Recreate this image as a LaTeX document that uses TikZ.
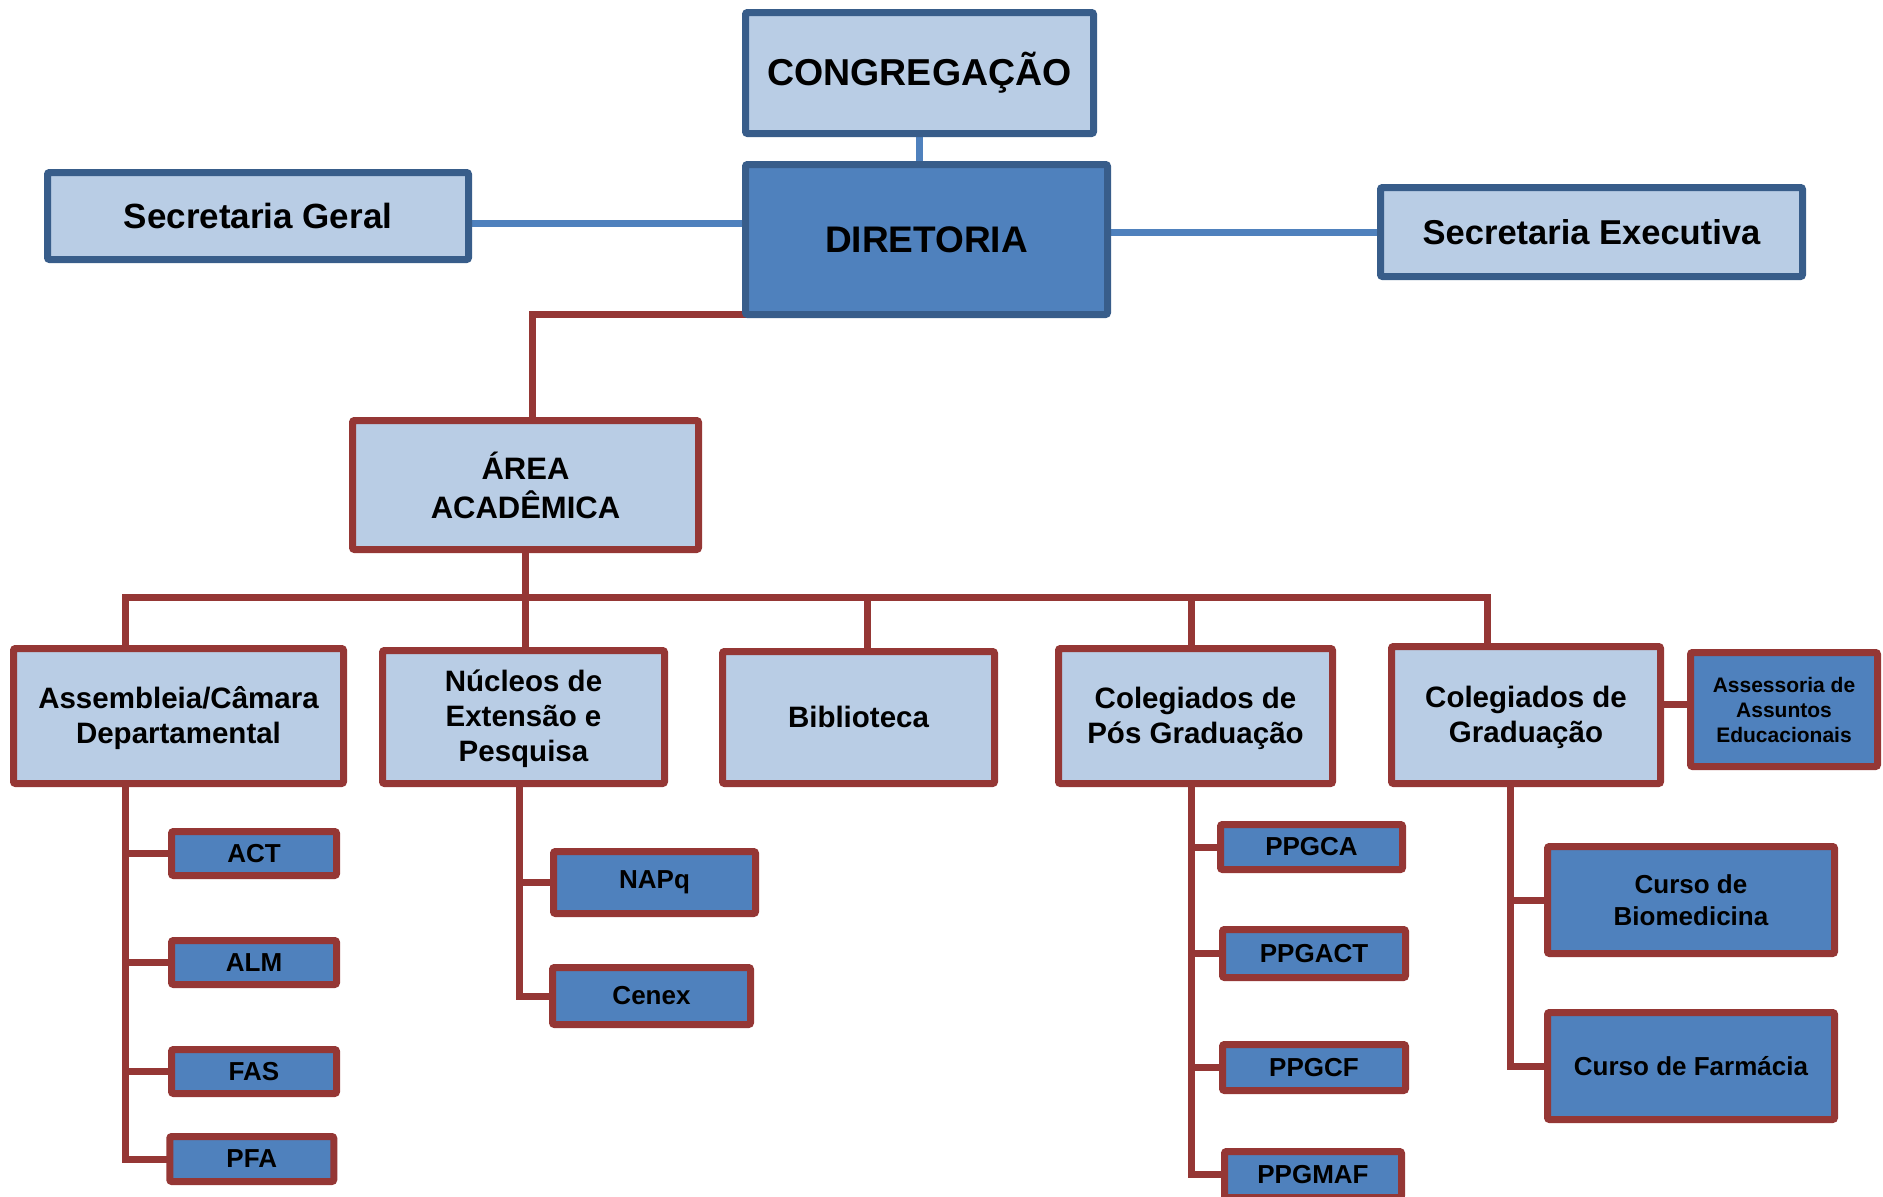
\documentclass[tikz,border=0pt]{standalone}
\usepackage{fontspec}
\setmainfont{Liberation Sans}
\usetikzlibrary{backgrounds}
\definecolor{lfill}{HTML}{B9CDE5}
\definecolor{dfill}{HTML}{4F81BD}
\definecolor{bblue}{HTML}{385D8A}
\definecolor{rred}{HTML}{953735}
\newcommand{\fsz}[2]{\fontsize{#1}{#2}\selectfont\bfseries}
\begin{document}
\begin{tikzpicture}[x=1pt,y=-1pt,
  base/.style={rectangle, line width=7pt, inner sep=0pt, outer sep=0pt, align=center, rounded corners=2pt},
  topbox/.style={base, draw=bblue, fill=lfill},
  dirbox/.style={base, draw=bblue, fill=dfill},
  redlight/.style={base, draw=rred, fill=lfill},
  reddark/.style={base, draw=rred, fill=dfill},
  rline/.style={draw=rred, line width=7pt},
  bline/.style={draw=dfill, line width=7pt},
  lvtwo/.style={font=\fsz{29.5}{35}, text depth=2pt},
  lvthree/.style={font=\fsz{26}{32}}]
\useasboundingbox (0,0) rectangle (1883,1197);
\clip (0,0) rectangle (1883,1197);

% top
\node[topbox, minimum width=348pt, minimum height=121pt, font=\fsz{37.5}{43}] (cong) at (919.5,73) {CONGREGAÇÃO};
\node[dirbox, minimum width=362pt, minimum height=150pt, font=\fsz{37}{42}] (dir) at (926.5,239.5) {DIRETORIA};
\node[topbox, minimum width=421pt, minimum height=87pt, font=\fsz{35}{41}] (sg) at (258,216) {Secretaria Geral};
\node[topbox, minimum width=422pt, minimum height=89pt, font=\fsz{34.5}{41}] (se) at (1591.5,232) {Secretaria Executiva};
\node[redlight, minimum width=346pt, minimum height=129pt, font=\fsz{31}{39}] (area) at (525.5,485) {ÁREA\\ACADÊMICA};

% level 2
\node[redlight, lvtwo, minimum width=330pt, minimum height=135pt] (ass) at (178.5,716) {Assembleia/Câmara\\Departamental};
\node[redlight, lvtwo, minimum width=282pt, minimum height=133pt] (nuc) at (523.5,717) {Núcleos de\\Extensão e\\Pesquisa};
\node[redlight, lvtwo, minimum width=272pt, minimum height=132pt] (bib) at (858.5,717.5) {Biblioteca};
\node[redlight, lvtwo, minimum width=274pt, minimum height=135pt] (pos) at (1195.5,716) {Colegiados de\\Pós Graduação};
\node[redlight, lvtwo, minimum width=269pt, minimum height=137pt] (grad) at (1526,715) {Colegiados de\\Graduação};
\node[reddark, font=\fsz{21}{25}, minimum width=187pt, minimum height=114pt] (ase) at (1784,709.5) {Assessoria de\\Assuntos\\Educacionais};

% level 3
\node[reddark, lvthree, minimum width=165pt, minimum height=44pt] (act) at (254,853.5) {ACT};
\node[reddark, lvthree, minimum width=165pt, minimum height=44pt] (alm) at (254,962.5) {ALM};
\node[reddark, lvthree, minimum width=165pt, minimum height=44pt] (fas) at (254,1071.5) {FAS};
\node[reddark, lvthree, minimum width=164pt, minimum height=45pt] (pfa) at (251.75,1159) {PFA};
\node[reddark, lvthree, minimum width=202pt, minimum height=62pt] (napq) at (654.5,882.5) {NAPq};
\node[reddark, lvthree, minimum width=198pt, minimum height=57pt] (cenex) at (651.5,996) {Cenex};
\node[reddark, lvthree, minimum width=182pt, minimum height=45pt] (ppgca) at (1311.5,847) {PPGCA};
\node[reddark, lvthree, minimum width=183pt, minimum height=48pt] (ppgact) at (1314,953.5) {PPGACT};
\node[reddark, lvthree, minimum width=183pt, minimum height=46pt] (ppgcf) at (1314,1067.5) {PPGCF};
\node[reddark, lvthree, minimum width=177pt, minimum height=46pt] (ppgmaf) at (1313,1174.5) {PPGMAF};
\node[reddark, lvthree, minimum width=287pt, minimum height=107pt] (biomed) at (1691,900) {Curso de\\Biomedicina};
\node[reddark, lvthree, minimum width=287pt, minimum height=107pt] (farm) at (1691,1066) {Curso de Farmácia};

\coordinate (bus) at (0,597);
\coordinate (xA) at (125,0);
\coordinate (xN) at (519,0);
\coordinate (xB) at (867,0);
\coordinate (xP) at (1191,0);
\coordinate (xGd) at (1487,0);
\coordinate (xG) at (1510,0);

\begin{scope}[on background layer]
  % blue connectors
  \draw[bline] (cong.south) -- (cong.south |- dir.north);
  \draw[bline] ([yshift=-7pt]sg.east) -- ([yshift=-7pt]sg.east -| dir.west);
  \draw[bline] (dir.east |- se.west) -- (se.west);
  % red connectors
  \draw[rline] (dir.south west) -| ([xshift=7pt]area.north);
  \draw[rline] (area.south) -- (area.south |- nuc.north);
  \draw[rline] (ass.north -| xA) |- (bus -| xGd) -- (grad.north -| xGd);
  \draw[rline] (bus -| xB) -- (bib.north -| xB);
  \draw[rline] (bus -| xP) -- (pos.north -| xP);
  \draw[rline] ([yshift=5.5pt]ase.west) -- ([yshift=5.5pt]ase.west -| grad.east);
  % Assembleia
  \draw[rline] (ass.south -| xA) |- (pfa.west);
  \draw[rline] (act.west -| xA) -- (act.west);
  \draw[rline] (alm.west -| xA) -- (alm.west);
  \draw[rline] (fas.west -| xA) -- (fas.west);
  % Nucleos
  \draw[rline] (nuc.south -| xN) |- (cenex.west);
  \draw[rline] (napq.west -| xN) -- (napq.west);
  % Pos
  \draw[rline] (pos.south -| xP) |- (ppgmaf.west);
  \draw[rline] (ppgca.west -| xP) -- (ppgca.west);
  \draw[rline] (ppgact.west -| xP) -- (ppgact.west);
  \draw[rline] (ppgcf.west -| xP) -- (ppgcf.west);
  % Graduacao
  \draw[rline] (grad.south -| xG) |- (farm.west);
  \draw[rline] (biomed.west -| xG) -- (biomed.west);
\end{scope}
\end{tikzpicture}
\end{document}
